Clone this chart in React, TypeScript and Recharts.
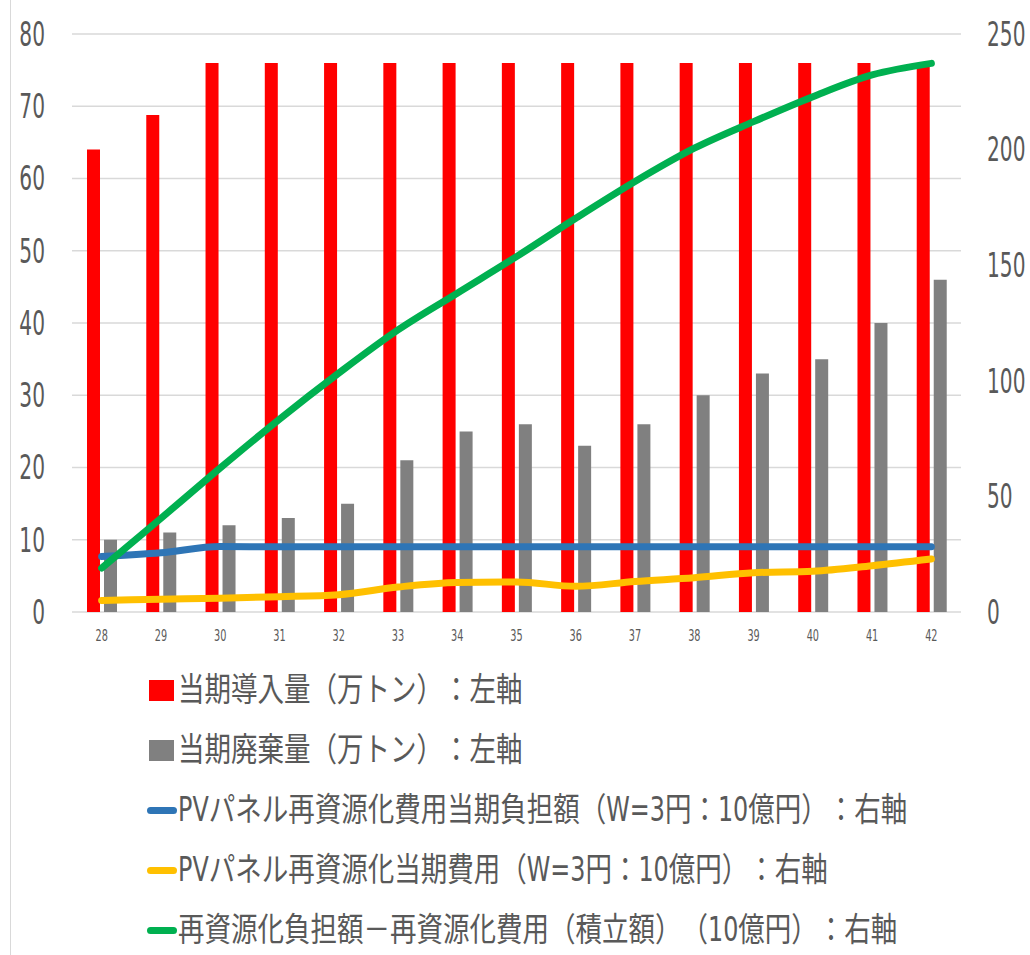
import React from "react";
import {
  ComposedChart,
  Bar,
  Line,
  XAxis,
  YAxis,
  CartesianGrid,
  Legend,
} from "recharts";

// 年度（平成）
const years = ["28", "29", "30", "31", "32", "33", "34", "35", "36", "37", "38", "39", "40", "41", "42"];

// 左軸：万トン
const installed = [64, 68.8, 76, 76, 76, 76, 76, 76, 76, 76, 76, 76, 76, 76, 76];
const disposed = [10, 11, 12, 13, 15, 21, 25, 26, 23, 26, 30, 33, 35, 40, 46];

// 右軸：10億円
const burden = [24, 25.6, 28.3, 28.2, 28.2, 28.2, 28.2, 28.2, 28.2, 28.2, 28.2, 28.2, 28.2, 28.2, 28.2];
const cost = [5.0, 5.5, 6.0, 6.6, 7.5, 10.8, 12.8, 13.0, 11.1, 13.2, 14.8, 17.0, 17.6, 20.0, 22.9];
const reserve = [19.0, 40.5, 62.3, 83.4, 103.3, 122, 137.9, 153.7, 170.3, 186.2, 200.6, 212.1, 222.9, 232.3, 237.3];

const leftTicks = [0, 10, 20, 30, 40, 50, 60, 70, 80];
const rightTicks = [0, 50, 100, 150, 200, 250];

const series = [
  { key: "installed", name: "当期導入量（万トン）：左軸", color: "#FF0000", kind: "bar" },
  { key: "disposed", name: "当期廃棄量（万トン）：左軸", color: "#808080", kind: "bar" },
  { key: "burden", name: "PVパネル再資源化費用当期負担額（W=3円：10億円）：右軸", color: "#2E75B6", kind: "line" },
  { key: "cost", name: "PVパネル再資源化当期費用（W=3円：10億円）：右軸", color: "#FFC000", kind: "line" },
  { key: "reserve", name: "再資源化負担額－再資源化費用（積立額）（10億円）：右軸", color: "#00B050", kind: "line" },
];

const data = years.map((year, i) => ({
  year,
  installed: installed[i],
  disposed: disposed[i],
  burden: burden[i],
  cost: cost[i],
  reserve: reserve[i],
}));

const FONT = "'Liberation Sans Narrow', 'DejaVu Sans Condensed', 'Noto Sans CJK JP', sans-serif";
const TEXT_COLOR = "#595959";

// 縦長の数字ラベル
const StretchTick = ({ x, y, payload, textAnchor, size }: any) => (
  <text
    transform={`translate(${x},${y}) scale(0.83,1.25)`}
    textAnchor={textAnchor}
    dominantBaseline="central"
    fontSize={size}
    fontFamily={FONT}
    fill={TEXT_COLOR}
  >
    {payload.value}
  </text>
);

const LegendRows = () => (
  <div style={{ fontFamily: FONT, color: TEXT_COLOR }}>
    {series.map((s) => (
      <div key={s.key} style={{ display: "flex", alignItems: "center", height: 60 }}>
        <span style={{ width: 31, display: "flex", alignItems: "center" }}>
          {s.kind === "bar" ? (
            <span style={{ marginLeft: 2, width: 25, height: 21, background: s.color }} />
          ) : (
            <span style={{ width: 30, height: 7, borderRadius: 4, background: s.color }} />
          )}
        </span>
        <span
          style={
            {
              display: "inline-block",
              fontSize: 26.5,
              lineHeight: 1,
              whiteSpace: "nowrap",
              textSpacingTrim: "space-all",
              transform: "scaleY(1.25)",
            } as any
          }
        >
          {s.name}
        </span>
      </div>
    ))}
  </div>
);

const App = () => {
  return (
    <div style={{ position: "absolute", left: 0, top: 0, width: 1030, height: 955, background: "#fff" }}>
      <div style={{ position: "absolute", left: 10, top: 0, width: 1, height: 955, background: "#D9D9D9" }} />
      <ComposedChart
        width={1030}
        height={955}
        data={data}
        margin={{ top: 34, right: 0, bottom: 13, left: 0 }}
        barGap={4}
      >
        <CartesianGrid yAxisId="left" vertical={false} stroke="#D9D9D9" strokeWidth={1.5} />
        <XAxis
          dataKey="year"
          height={30}
          axisLine={false}
          tickLine={false}
          tickMargin={17}
          interval={0}
          tick={<StretchTick size={13} />}
        />
        <YAxis
          yAxisId="left"
          orientation="left"
          width={72}
          domain={[0, 80]}
          ticks={leftTicks}
          axisLine={false}
          tickLine={false}
          tickMargin={21}
          tick={<StretchTick size={27} />}
        />
        <YAxis
          yAxisId="right"
          orientation="right"
          width={69}
          domain={[0, 250]}
          ticks={rightTicks}
          axisLine={false}
          tickLine={false}
          tickMargin={20}
          tick={<StretchTick size={27} />}
        />
        <Bar yAxisId="left" dataKey="installed" name={series[0].name} fill="#FF0000" barSize={13} isAnimationActive={false} />
        <Bar yAxisId="left" dataKey="disposed" name={series[1].name} fill="#808080" barSize={13} isAnimationActive={false} />
        <Line
          yAxisId="right"
          type="monotone"
          dataKey="burden"
          name={series[2].name}
          stroke="#2E75B6"
          strokeWidth={7}
          strokeLinecap="round"
          dot={false}
          activeDot={false}
          isAnimationActive={false}
        />
        <Line
          yAxisId="right"
          type="monotone"
          dataKey="cost"
          name={series[3].name}
          stroke="#FFC000"
          strokeWidth={7}
          strokeLinecap="round"
          dot={false}
          activeDot={false}
          isAnimationActive={false}
        />
        <Line
          yAxisId="right"
          type="monotone"
          dataKey="reserve"
          name={series[4].name}
          stroke="#00B050"
          strokeWidth={7}
          strokeLinecap="round"
          dot={false}
          activeDot={false}
          isAnimationActive={false}
        />
        <Legend
          layout="vertical"
          verticalAlign="bottom"
          align="center"
          content={() => <LegendRows />}
          wrapperStyle={{ left: 147, top: 660, width: 870 }}
        />
      </ComposedChart>
    </div>
  );
};

export default App;
